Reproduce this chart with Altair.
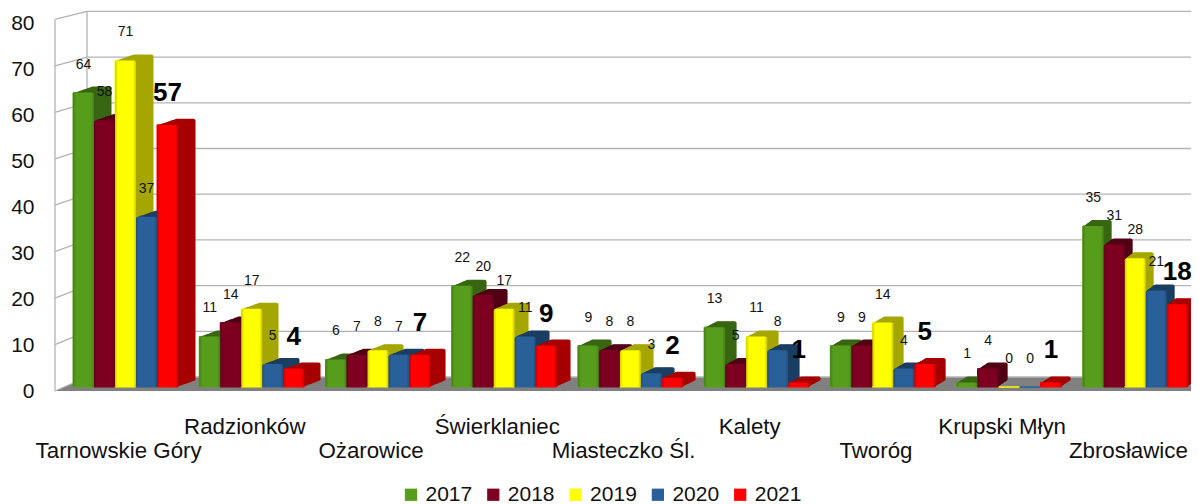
import altair as alt
import pandas as pd

categories = ["Tarnowskie Góry", "Radzionków", "Ożarowice", "Świerklaniec", "Miasteczko Śl.",
              "Kalety", "Tworóg", "Krupski Młyn", "Zbrosławice"]
series = ["2017", "2018", "2019", "2020", "2021"]
v2017 = [64, 11, 6, 22, 9, 13, 9, 1, 35]
v2018 = [58, 14, 7, 20, 8, 5, 9, 4, 31]
v2019 = [71, 17, 8, 17, 8, 11, 14, 0, 28]
v2020 = [37, 5, 7, 11, 3, 8, 4, 0, 21]
v2021 = [57, 4, 7, 9, 2, 1, 5, 1, 18]
front_colors = ["#579d1c", "#7e0021", "#ffff00", "#2a6099", "#ff0000"]
edge_colors = ["#467e16", "#65001a", "#cccc00", "#224d7a", "#cc0000"]
side_colors = ["#386612", "#520015", "#a6a600", "#1b3e63", "#a60000"]
ticks = [0, 10, 20, 30, 40, 50, 60, 70, 80]

rows = []
for k, (name, vals) in enumerate(zip(series, [v2017, v2018, v2019, v2020, v2021])):
    for g, (c, v) in enumerate(zip(categories, vals)):
        rows.append({"cat": c, "s": name, "v": v, "g": g, "k": k})
df = pd.DataFrame(rows)
tick_df = pd.DataFrame({"t": ticks})
floor_df = pd.DataFrame({"px": [369, 383], "l": [32, 0], "r": [1144, 1140]})

PX = 1136 / 9          # pixels per category on the x scale
PY = 368 / 80          # pixels per unit on the y scale
names_js = "[" + ",".join("'" + c + "'" for c in categories) + "]"
x_axis = alt.Axis(title=None, values=[i + 0.5 for i in range(9)], labelAngle=0, domain=False, ticks=False,
                  grid=False, labelFontSize=22.3, labelPadding=24, labelLineHeight=24, labelOverlap=False,
                  labelLimit=0, labelBaseline="top", labelColor="#111111", labelFlush=False,
                  labelExpr=f"floor(datum.value)%2==1 ? {names_js}[floor(datum.value)] : ['', {names_js}[floor(datum.value)]]")
y_axis = alt.Axis(title=None, values=ticks, domain=False, ticks=False, grid=False, labelFontSize=21,
                  labelPadding=21, labelOffset=4, labelColor="#111111")
x_scale = alt.Scale(domain=[0, 9], range=[0, 1136], nice=False, zero=False)
y_scale = alt.Scale(domain=[0, 80], range=[379, 11], nice=False, zero=False)


def X(f):
    return alt.X(f, type="quantitative", scale=x_scale, axis=x_axis)


def Y(f):
    return alt.Y(f, type="quantitative", scale=y_scale, axis=y_axis, stack=None)


def bar_fields(chart, t):
    # the side face narrows towards the right of the chart, as in a perspective view
    depth = f"{t}*(17.5-1.2*datum.g)"
    return chart.transform_calculate(
        x0=f"datum.g+(18+21*datum.k+{depth})/{PX}",
        x1=f"datum.g+(39+21*datum.k+{depth})/{PX}",
        y0=f"datum.v+{6 * t}/{PY}",
        y1=f"{6 * t}/{PY}",
    )


floor = alt.Chart(floor_df).mark_area(color="#808080", orient="horizontal").encode(
    y=alt.Y("px:Q", scale=None, axis=None), x=alt.X("l:Q", scale=None, axis=None), x2="r:Q")

grid_color = "#b3b3b3"
base_t = alt.Chart(tick_df).transform_calculate(back="2.17+0.9935*datum.t", front="-0.87+1.0096*datum.t")
back_grid = base_t.mark_rule(color=grid_color, strokeWidth=1.3).encode(
    y=Y("back"), x=alt.value(32), x2=alt.value(1144))
slant = base_t.mark_rule(color=grid_color, strokeWidth=1.3).encode(
    x=alt.value(0), x2=alt.value(32), y=Y("front"), y2="back:Q")
span = alt.Chart(pd.DataFrame({"a": [80], "b": [0]}))
back_wall = span.transform_calculate(t="2.17+0.9935*datum.a", u="2.17+0.9935*datum.b").mark_rule(
    color=grid_color, strokeWidth=1.3).encode(x=alt.value(32), y=Y("t"), y2="u:Q")
front_wall = span.transform_calculate(t="-0.87+1.0096*datum.a", u="-0.87+1.0096*datum.b").mark_rule(
    color=grid_color, strokeWidth=1.3).encode(x=alt.value(0), y=Y("t"), y2="u:Q")

color_scale = alt.Scale(domain=series, range=front_colors)
legend = alt.Legend(title=None, orient="none", legendX=345.5, legendY=476, direction="horizontal", columns=5,
                    symbolType="square", symbolSize=150, labelFontSize=21, columnPadding=10.3, labelColor="#111111",
                    symbolStrokeWidth=0, labelOffset=4)
base_bars = bar_fields(alt.Chart(df), 0).mark_bar(strokeWidth=1).encode(
    x=X("x0"), x2="x1:Q", y=Y("y0"), y2="y1:Q",
    color=alt.Color("s:N", scale=color_scale, legend=legend, sort=series),
    stroke=alt.Color("s:N", scale=color_scale, legend=legend, sort=series))

layers = [floor, back_grid, slant, back_wall, front_wall, base_bars]
steps = [i / 10 for i in range(10, 0, -1)]
for name, front, edge, side in zip(series, front_colors, edge_colors, side_colors):
    pos = df[(df.s == name) & (df.v > 0)]
    for t in steps:
        layers.append(bar_fields(alt.Chart(pos), t).mark_bar(color=side, cornerRadius=2).encode(
            x=X("x0"), x2="x1:Q", y=Y("y0"), y2="y1:Q"))
    grad = alt.Gradient(gradient="linear", x1=0, x2=1, y1=0, y2=0, stops=[
        alt.GradientStop(color=edge, offset=0), alt.GradientStop(color=front, offset=0.14),
        alt.GradientStop(color=front, offset=0.86), alt.GradientStop(color=edge, offset=1)])
    layers.append(bar_fields(alt.Chart(pos), 0).mark_bar(color=grad, cornerRadius=2).encode(
        x=X("x0"), x2="x1:Q", y=Y("y0"), y2="y1:Q"))

text_x = f"datum.g+(28.5+21*datum.k)/{PX}"
small = alt.Chart(df[df.s != "2021"]).transform_calculate(xc=text_x).mark_text(
    fontSize=14, dy=-28, color="#111111").encode(x=X("xc"), y=Y("v"), text="v:Q")
big = alt.Chart(df[df.s == "2021"]).transform_calculate(xc=text_x).mark_text(
    fontSize=26, fontWeight="bold", dy=-32, color="#000000").encode(x=X("xc"), y=Y("v"), text="v:Q")
layers += [small, big]

chart = alt.layer(*layers).properties(
    width=1136, height=383, autosize=alt.AutoSizeParams(type="none"),
    padding={"left": 47, "top": 0, "right": 0, "bottom": 113}
).configure_view(stroke=None).configure_axis(labelFont="Liberation Sans").configure_legend(
    labelFont="Liberation Sans").configure_text(font="Liberation Sans")

chart.save("out.html", embed_options={"renderer": "svg", "actions": False})
